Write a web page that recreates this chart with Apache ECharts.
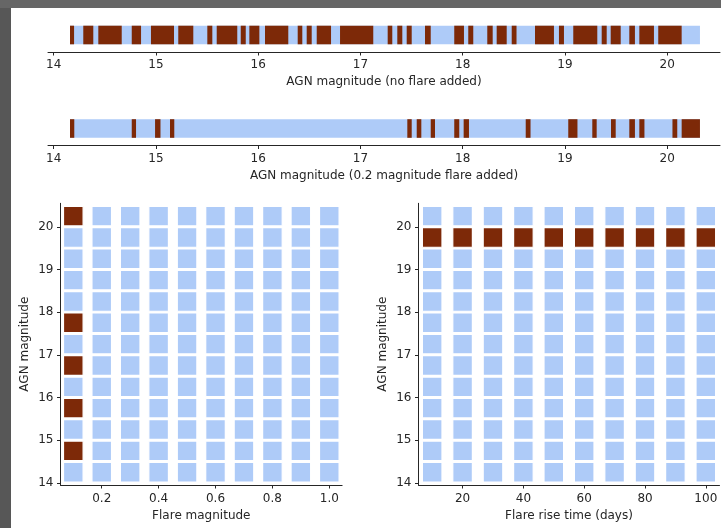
<!DOCTYPE html>
<html>
<head>
<meta charset="utf-8">
<script src="https://cdn.jsdelivr.net/npm/echarts@6/dist/echarts.min.js"></script>
<style>
  html, body { margin: 0; padding: 0; background: #575757; }
  #chart { width: 721px; height: 528px; }
</style>
</head>
<body>
<div id="chart"></div>
<script>
// ---- data ----
// Tick values for the AGN magnitude strips
const stripTicks = [14, 15, 16, 17, 18, 19, 20];
// Magnitude span covered by the simulated AGN sample
const sampleSpan = [[14.16, 20.32]];
// Magnitude intervals where the AGN was recovered, no flare injected
const detectedNoFlare = [
  [14.159, 14.199], [14.289, 14.387], [14.436, 14.665], [14.763, 14.854],
  [14.951, 15.176], [15.218, 15.365], [15.502, 15.551], [15.594, 15.795],
  [15.829, 15.878], [15.913, 16.011], [16.066, 16.294], [16.386, 16.431],
  [16.474, 16.523], [16.572, 16.712], [16.800, 17.125], [17.266, 17.311],
  [17.360, 17.409], [17.452, 17.501], [17.631, 17.687], [17.917, 18.012],
  [18.054, 18.103], [18.240, 18.293], [18.332, 18.430], [18.479, 18.526],
  [18.707, 18.892], [18.941, 18.990], [19.081, 19.316], [19.359, 19.408],
  [19.447, 19.545], [19.629, 19.684], [19.727, 19.870], [19.912, 20.141]
];
// Magnitude intervals where the AGN was recovered with a 0.2 mag flare
const detectedWithFlare = [
  [14.159, 14.201], [14.763, 14.805], [14.991, 15.044], [15.137, 15.179],
  [17.458, 17.501], [17.550, 17.595], [17.687, 17.729], [17.917, 17.966],
  [18.009, 18.061], [18.616, 18.663], [19.032, 19.122], [19.267, 19.310],
  [19.450, 19.496], [19.629, 19.684], [19.727, 19.777], [20.051, 20.098],
  [20.141, 20.320]
];

// Grid of simulated AGN magnitudes
const agnMagnitudes = [14.25, 14.75, 15.25, 15.75, 16.25, 16.75, 17.25,
                       17.75, 18.25, 18.75, 19.25, 19.75, 20.25];
const flareMagnitudes = [0.1, 0.2, 0.3, 0.4, 0.5, 0.6, 0.7, 0.8, 0.9, 1.0];
const riseTimes = [10, 20, 30, 40, 50, 60, 70, 80, 90, 100];
const agnTicks = [14, 15, 16, 17, 18, 19, 20];
const flareMagTicks = [0.2, 0.4, 0.6, 0.8, 1.0];
const riseTimeTicks = [20, 40, 60, 80, 100];
// Detections: [flare magnitude, AGN magnitude]
const flareMagHits = [[0.1, 14.75], [0.1, 15.75], [0.1, 16.75], [0.1, 17.75], [0.1, 20.25]];
// Detections: [rise time, AGN magnitude]
const riseTimeHits = [[10, 19.75], [20, 19.75], [30, 19.75], [40, 19.75], [50, 19.75],
                      [60, 19.75], [70, 19.75], [80, 19.75], [90, 19.75], [100, 19.75]];

// ---- styling ----
const BROWN = '#7d2908';
const BLUE = '#aecbf8';
const INK = '#262626';
const FONT = 'DejaVu Sans';

function gridCells(xs, hits) {
  const hitSet = new Set(hits.map(h => h[0] + '|' + h[1]));
  const miss = [], hit = [];
  xs.forEach(x => agnMagnitudes.forEach(y => {
    (hitSet.has(x + '|' + y) ? hit : miss).push([x, y]);
  }));
  return { miss, hit };
}
const leftCells = gridCells(flareMagnitudes, flareMagHits);
const rightCells = gridCells(riseTimes, riseTimeHits);

function bandItem(color) {
  return function (params, api) {
    const a = api.coord([api.value(0), 0.5]);
    const b = api.coord([api.value(1), 0.5]);
    return {
      type: 'rect',
      shape: { x: a[0], y: a[1] - 9.3, width: b[0] - a[0], height: 18.6 },
      style: { fill: color }
    };
  };
}

function valueAxis(gridIndex, min, max, ticks, name, fmt, extra) {
  return Object.assign({
    type: 'value', gridIndex, min, max,
    name, nameLocation: 'middle', nameGap: 24,
    nameTextStyle: { color: INK, fontFamily: FONT, fontSize: 12 },
    axisLine: { show: true, onZero: false, lineStyle: { color: INK, width: 1 } },
    axisTick: { show: true, length: 3.5, customValues: ticks, lineStyle: { color: INK } },
    axisLabel: { show: true, customValues: ticks, margin: 7, color: INK,
                 fontFamily: FONT, fontSize: 12, formatter: fmt },
    splitLine: { show: false }
  }, extra || {});
}
const intFmt = v => String(Math.round(v));
const oneDec = v => v.toFixed(1);

const hiddenY = (gridIndex) => ({ type: 'value', gridIndex, min: 0, max: 1, show: false });

const option = {
  animation: false,
  backgroundColor: 'transparent',
  graphic: [
    { type: 'rect', shape: { x: 0, y: 0, width: 721, height: 8 }, style: { fill: '#666666' }, silent: true, z: -10 },
    { type: 'rect', shape: { x: 11, y: 8, width: 710, height: 520 }, style: { fill: '#ffffff' }, silent: true, z: -10 }
  ],
  grid: [
    { left: 48, top: 18, width: 672, height: 34 },
    { left: 48, top: 111.5, width: 672, height: 34 },
    { left: 60.5, top: 203.3, width: 281.6, height: 281.7 },
    { left: 418.5, top: 203.3, width: 301, height: 281.7 }
  ],
  xAxis: [
    valueAxis(0, 13.944, 20.516, stripTicks, 'AGN magnitude (no flare added)', intFmt),
    valueAxis(1, 13.944, 20.516, stripTicks, 'AGN magnitude (0.2 magnitude flare added)', intFmt),
    valueAxis(2, 0.055, 1.045, flareMagTicks, 'Flare magnitude', oneDec, { axisLabel: { customValues: flareMagTicks, margin: 8, color: INK, fontFamily: FONT, fontSize: 12, formatter: oneDec } }),
    valueAxis(3, 5.5, 104.5, riseTimeTicks, 'Flare rise time (days)', intFmt, { axisLabel: { customValues: riseTimeTicks, margin: 8, color: INK, fontFamily: FONT, fontSize: 12, formatter: intFmt } })
  ],
  yAxis: [
    hiddenY(0),
    hiddenY(1),
    valueAxis(2, 13.95, 20.55, agnTicks, 'AGN magnitude', intFmt, { nameGap: 30 }),
    valueAxis(3, 13.95, 20.55, agnTicks, 'AGN magnitude', intFmt, { nameGap: 30 })
  ],
  series: [
    { type: 'custom', xAxisIndex: 0, yAxisIndex: 0, data: sampleSpan, renderItem: bandItem(BLUE), z: 1 },
    { type: 'custom', xAxisIndex: 0, yAxisIndex: 0, data: detectedNoFlare, renderItem: bandItem(BROWN), z: 2 },
    { type: 'custom', xAxisIndex: 1, yAxisIndex: 1, data: sampleSpan, renderItem: bandItem(BLUE), z: 1 },
    { type: 'custom', xAxisIndex: 1, yAxisIndex: 1, data: detectedWithFlare, renderItem: bandItem(BROWN), z: 2 },
    { type: 'scatter', xAxisIndex: 2, yAxisIndex: 2, data: leftCells.miss, symbol: 'rect', symbolSize: 19.6,
      itemStyle: { color: BLUE, opacity: 1, borderColor: '#ffffff', borderWidth: 1.2 } },
    { type: 'scatter', xAxisIndex: 2, yAxisIndex: 2, data: leftCells.hit, symbol: 'rect', symbolSize: 19.6,
      itemStyle: { color: BROWN, opacity: 1, borderColor: '#ffffff', borderWidth: 1.2 } },
    { type: 'scatter', xAxisIndex: 3, yAxisIndex: 3, data: rightCells.miss, symbol: 'rect', symbolSize: 19.6,
      itemStyle: { color: BLUE, opacity: 1, borderColor: '#ffffff', borderWidth: 1.2 } },
    { type: 'scatter', xAxisIndex: 3, yAxisIndex: 3, data: rightCells.hit, symbol: 'rect', symbolSize: 19.6,
      itemStyle: { color: BROWN, opacity: 1, borderColor: '#ffffff', borderWidth: 1.2 } }
  ]
};

const chart = echarts.init(document.getElementById('chart'), null, { renderer: 'canvas' });
chart.setOption(option);
</script>
</body>
</html>
